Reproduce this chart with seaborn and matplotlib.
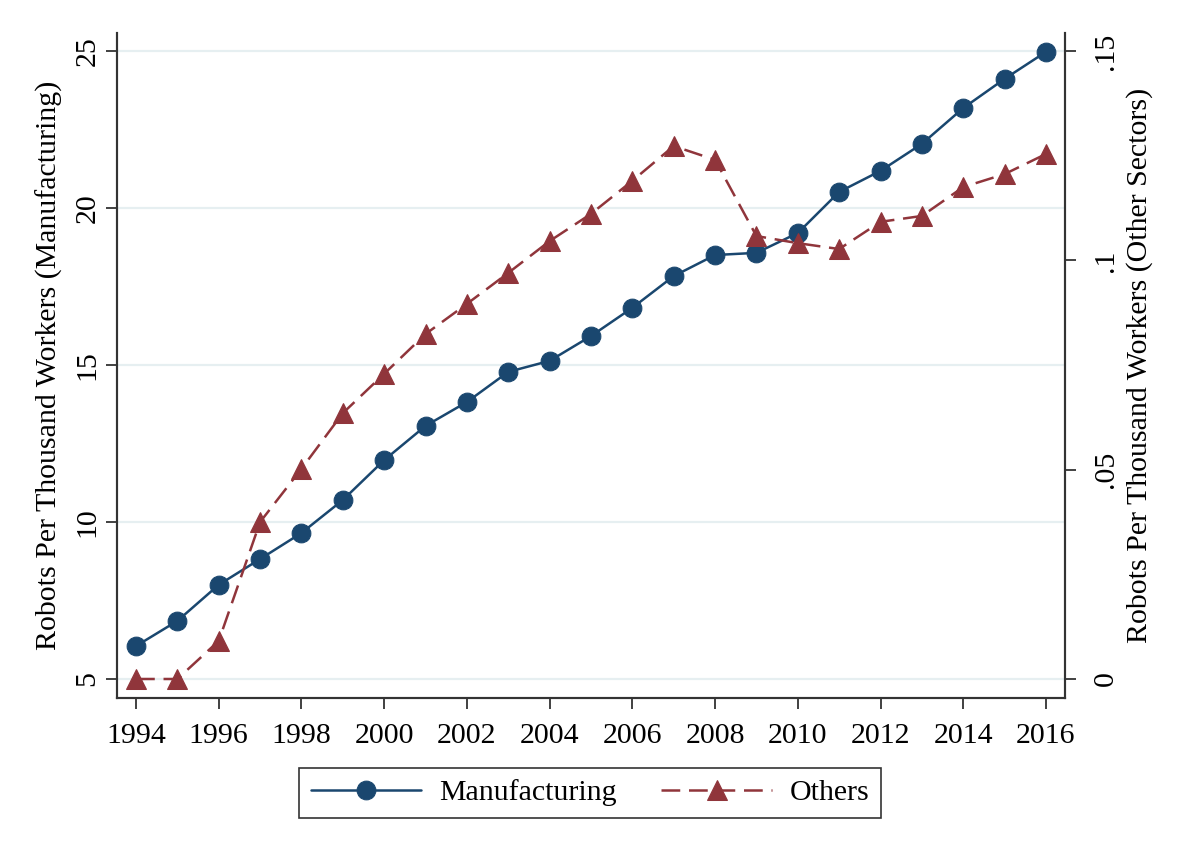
import matplotlib
matplotlib.use("Agg")
import matplotlib.pyplot as plt
import seaborn as sns
import pandas as pd

years = list(range(1994, 2017))
manufacturing = [6.05, 6.85, 8.0, 8.82, 9.65, 10.7, 11.97, 13.06, 13.82, 14.78, 15.13,
                 15.92, 16.82, 17.83, 18.5, 18.57, 19.2, 20.51, 21.18, 22.04, 23.18, 24.11, 24.97]
others = [0.0, 0.0, 0.0091, 0.0375, 0.0502, 0.0635, 0.0729, 0.0824, 0.0896, 0.097, 0.1046,
          0.1111, 0.119, 0.1273, 0.124, 0.1058, 0.1041, 0.1027, 0.1092, 0.1106, 0.1175, 0.1206, 0.1254]
left_ticks = [5, 10, 15, 20, 25]
right_ticks = [0, 0.05, 0.10, 0.15]
right_labels = ["0", ".05", ".1", ".15"]
x_ticks = list(range(1994, 2017, 2))

df = pd.DataFrame({"year": years, "Manufacturing": manufacturing, "Others": others})

sns.set_theme(style="white")
plt.rcParams["font.family"] = ["Liberation Serif", "DejaVu Serif"]
plt.rcParams["text.color"] = "black"

navy = "#1a476f"
maroon = "#90353b"
grid_c = "#e6eff1"
spine_c = "#333333"

fig = plt.figure(figsize=(11.78, 8.61), dpi=100)
ax = fig.add_axes([117/1178, 1-698/861, (1065-117)/1178, (698-33)/861])
ax2 = ax.twinx()

sns.lineplot(data=df, x="year", y="Manufacturing", ax=ax, color=navy, linewidth=1.8,
             marker="o", markersize=13.5, markeredgecolor=navy, markerfacecolor=navy,
             label="Manufacturing", zorder=3)
sns.lineplot(data=df, x="year", y="Others", ax=ax2, color=maroon, linewidth=1.8,
             linestyle=(0, (7.5, 3.5)), marker="^", markersize=14, markeredgecolor=maroon,
             markerfacecolor=maroon, label="Others", zorder=3)

for a in (ax, ax2):
    lg = a.get_legend()
    if lg is not None:
        lg.remove()

ax.set_xlim(1993.54, 2016.46)
ax.set_ylim(4.395, 25.57)
ax2.set_ylim(-0.00454, 0.1543)

ax.set_xticks(x_ticks)
ax.set_yticks(left_ticks)
ax2.set_yticks(right_ticks)
ax2.set_yticklabels(right_labels)

ax.set_axisbelow(True)
for t in left_ticks:
    ax.axhline(t, color=grid_c, linewidth=1.6, zorder=0)

fs = 21.5
ax.tick_params(axis="x", labelsize=fs, length=8, width=1.3, color=spine_c, direction="out",
               bottom=True, pad=10, labelcolor="black")
ax.tick_params(axis="y", labelsize=fs, length=8, width=1.3, color=spine_c, direction="out",
               left=True, pad=4, labelcolor="black", labelrotation=90)
ax2.tick_params(axis="y", labelsize=fs, length=8, width=1.3, color=spine_c, direction="out",
                right=True, pad=12, labelcolor="black", labelrotation=90)
for lab in ax.get_yticklabels():
    lab.set_va("center")
for lab in ax2.get_yticklabels():
    lab.set_va("center")

ax.set_xlabel("")
ax.set_ylabel("Robots Per Thousand Workers (Manufacturing)", fontsize=fs, color="black", labelpad=8)
ax2.set_ylabel("Robots Per Thousand Workers (Other Sectors)", fontsize=fs, color="black",
               rotation=90, labelpad=5)

for a in (ax, ax2):
    a.spines["top"].set_visible(False)
    for s in ("left", "right", "bottom"):
        a.spines[s].set_color(spine_c)
        a.spines[s].set_linewidth(1.5)
    a.grid(False)

h1, l1 = ax.get_legend_handles_labels()
h2, l2 = ax2.get_legend_handles_labels()
leg = fig.legend(h1 + h2, l1 + l2, loc="center", bbox_to_anchor=(590/1178, 1-793/861),
                 ncol=2, fontsize=fs, frameon=True, fancybox=False, edgecolor="black",
                 handlelength=3.7, columnspacing=1.5, borderpad=0.4, handletextpad=0.6,
                 labelcolor="black")
leg.get_frame().set_linewidth(1.2)

fig.savefig("out.png", dpi=100, facecolor="white")
